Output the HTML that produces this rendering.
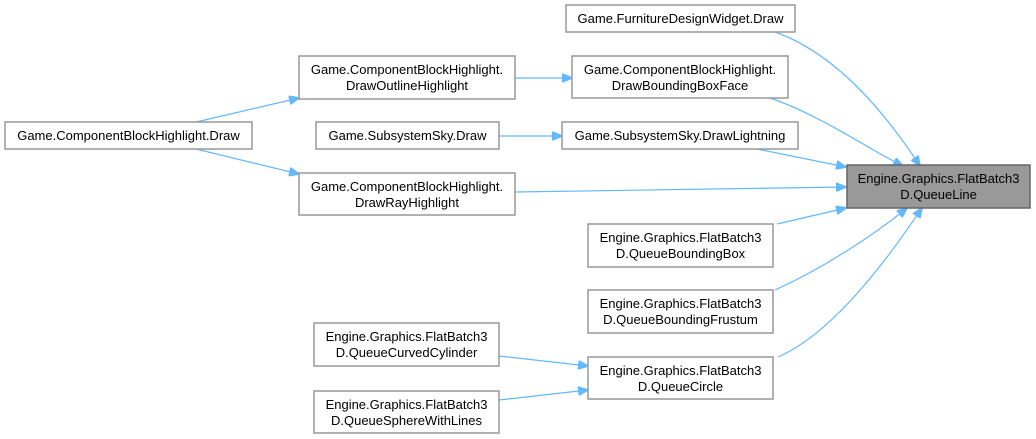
<!DOCTYPE html>
<html><head><meta charset="utf-8"><style>
html,body{margin:0;padding:0;background:#fff;}
svg{display:block;}
text{font-family:"Liberation Sans",Arial,sans-serif;font-size:13px;fill:#000;}
.b{fill:#fff;stroke:#999;stroke-width:1.5;}
.g{fill:#999;stroke:#666;stroke-width:1.5;}
.e{fill:none;stroke:#63b8ff;stroke-width:1.2;}
</style></head><body>
<svg width="1036" height="439" viewBox="0 0 1036 439">
<defs><marker id="a" markerWidth="11" markerHeight="9" refX="10" refY="4.5" orient="auto" markerUnits="userSpaceOnUse"><path d="M0,0 L11,4.5 L0,9 Z" fill="#63b8ff" stroke="#63b8ff"/></marker></defs>

<path class="e" marker-end="url(#a)" d="M196,122 L299,98"/>
<path class="e" marker-end="url(#a)" d="M196,149 L299,174"/>
<path class="e" marker-end="url(#a)" d="M515,78 L572,78"/>
<path class="e" marker-end="url(#a)" d="M499,136 L562,136"/>
<path class="e" marker-end="url(#a)" d="M775,32 C840,55 890,120 920,166"/>
<path class="e" marker-end="url(#a)" d="M770,98 C820,115 870,150 903,166"/>
<path class="e" marker-end="url(#a)" d="M757,149 L846,167"/>
<path class="e" marker-end="url(#a)" d="M515,192 L846,187"/>
<path class="e" marker-end="url(#a)" d="M777,224 L846,208"/>
<path class="e" marker-end="url(#a)" d="M775,290 C830,265 880,230 907,208"/>
<path class="e" marker-end="url(#a)" d="M778,357 C840,330 900,240 922,208"/>
<path class="e" marker-end="url(#a)" d="M499,356 L588,366"/>
<path class="e" marker-end="url(#a)" d="M499,400 L588,390"/>

<rect class="b" x="566" y="5" width="229" height="27"/>
<text x="680.5" y="23" text-anchor="middle">Game.FurnitureDesignWidget.Draw</text>

<rect class="b" x="299" y="56" width="216" height="43"/>
<text x="407" y="74" text-anchor="middle">Game.ComponentBlockHighlight.</text>
<text x="407" y="90" text-anchor="middle">DrawOutlineHighlight</text>

<rect class="b" x="572" y="56" width="216" height="42"/>
<text x="680" y="74" text-anchor="middle">Game.ComponentBlockHighlight.</text>
<text x="680" y="90" text-anchor="middle">DrawBoundingBoxFace</text>

<rect class="b" x="5" y="122" width="247" height="27"/>
<text x="128.5" y="140" text-anchor="middle">Game.ComponentBlockHighlight.Draw</text>

<rect class="b" x="316" y="122" width="183" height="27"/>
<text x="407.5" y="140" text-anchor="middle">Game.SubsystemSky.Draw</text>

<rect class="b" x="562" y="122" width="236" height="27"/>
<text x="680" y="140" text-anchor="middle">Game.SubsystemSky.DrawLightning</text>

<rect class="b" x="299" y="173" width="216" height="42"/>
<text x="407" y="191" text-anchor="middle">Game.ComponentBlockHighlight.</text>
<text x="407" y="207" text-anchor="middle">DrawRayHighlight</text>

<rect class="g" x="847" y="165" width="183" height="43"/>
<text x="938.5" y="183" text-anchor="middle">Engine.Graphics.FlatBatch3</text>
<text x="938.5" y="199" text-anchor="middle">D.QueueLine</text>

<rect class="b" x="588" y="224" width="185" height="43"/>
<text x="680.5" y="242" text-anchor="middle">Engine.Graphics.FlatBatch3</text>
<text x="680.5" y="258" text-anchor="middle">D.QueueBoundingBox</text>

<rect class="b" x="588" y="290" width="185" height="43"/>
<text x="680.5" y="308" text-anchor="middle">Engine.Graphics.FlatBatch3</text>
<text x="680.5" y="324" text-anchor="middle">D.QueueBoundingFrustum</text>

<rect class="b" x="588" y="357" width="185" height="42"/>
<text x="680.5" y="375" text-anchor="middle">Engine.Graphics.FlatBatch3</text>
<text x="680.5" y="391" text-anchor="middle">D.QueueCircle</text>

<rect class="b" x="314" y="323" width="185" height="43"/>
<text x="406.5" y="341" text-anchor="middle">Engine.Graphics.FlatBatch3</text>
<text x="406.5" y="357" text-anchor="middle">D.QueueCurvedCylinder</text>

<rect class="b" x="314" y="391" width="185" height="42"/>
<text x="406.5" y="409" text-anchor="middle">Engine.Graphics.FlatBatch3</text>
<text x="406.5" y="425" text-anchor="middle">D.QueueSphereWithLines</text>
</svg>
</body></html>
